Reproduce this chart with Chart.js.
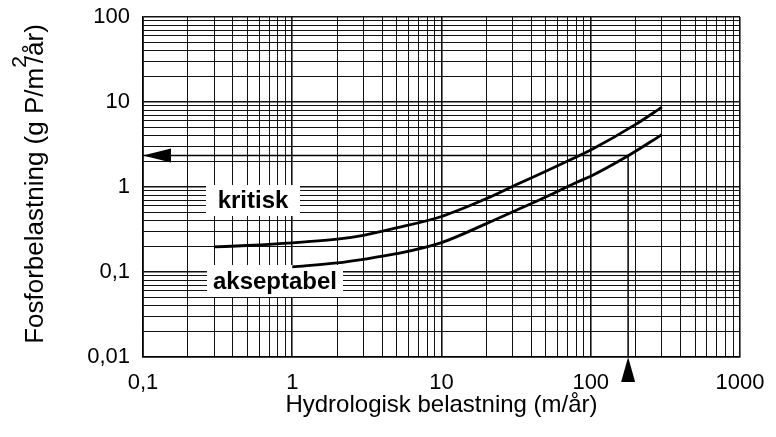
<!DOCTYPE html>
<html>
<head>
<meta charset="utf-8">
<script src="https://cdn.jsdelivr.net/npm/chart.js@4.4.1/dist/chart.umd.min.js"></script>
<style>
  html, body { margin: 0; padding: 0; background: #fff; }
  #wrap { width: 776px; height: 437px; }
</style>
</head>
<body>
<div id="wrap"><canvas id="myChart" width="776" height="437"></canvas></div>
<script>
// verdier lest av figuren
const xDekader = [0.1, 1, 10, 100, 1000];
const xEtiketter = ['0,1', '1', '10', '100', '1000'];
const yDekader = [0.01, 0.1, 1, 10, 100];
const yEtiketter = ['0,01', '0,1', '1', '10', '100'];

const kritiskX = [0.3, 0.5, 1, 2, 3, 5, 10, 20, 33, 50, 80, 100, 200, 300];
const kritiskY = [0.197, 0.205, 0.22, 0.243, 0.27, 0.33, 0.45, 0.73, 1.1, 1.53, 2.25, 2.72, 5.45, 8.7];

const akseptabelX = [1, 2, 3, 5, 10, 20, 33, 50, 80, 100, 178, 300];
const akseptabelY = [0.115, 0.128, 0.141, 0.164, 0.222, 0.371, 0.55, 0.763, 1.13, 1.34, 2.33, 4.13];

// avlesningseksempel (pilene)
const pilX = 178;
const pilY = 2.35;

const FONT = "'Liberation Sans', Arial, Helvetica, sans-serif";

function lagTicks(dekader) {
    const ticks = [];
    for (let i = 0; i < dekader.length - 1; i++) {
        for (let m = 1; m <= 9; m++) {
            ticks.push({ value: m * dekader[i] });
        }
    }
    ticks.push({ value: dekader[dekader.length - 1] });
    return ticks;
}

function punkter(xs, ys) {
    return xs.map((x, i) => ({ x: x, y: ys[i] }));
}

const rutenett = {
    color: '#111',
    lineWidth: (c) => (c.index % 9 === 0 ? 1.6 : 1),
    drawTicks: false
};

// hvite etikettbokser med fet tekst
const etikettPlugin = {
    id: 'etiketter',
    beforeDatasetsDraw(chart) {
        const ctx = chart.ctx;
        const bokser = [
            { tekst: 'kritisk', x: 206, y: 185, w: 94, h: 31 },
            { tekst: 'akseptabel', x: 207, y: 265, w: 136, h: 32 }
        ];
        ctx.save();
        ctx.font = 'bold 24px ' + FONT;
        ctx.textAlign = 'center';
        ctx.textBaseline = 'middle';
        bokser.forEach(b => {
            ctx.fillStyle = '#fff';
            ctx.fillRect(b.x, b.y, b.w, b.h);
            ctx.fillStyle = '#000';
            ctx.fillText(b.tekst, b.x + b.w / 2, b.y + b.h / 2 + 1);
        });
        ctx.restore();
    },
    afterDatasetsDraw(chart) {
        const ctx = chart.ctx;
        const xs = chart.scales.x;
        const ys = chart.scales.y;
        const px = xs.getPixelForValue(pilX);
        const py = ys.getPixelForValue(pilY);
        const venstre = chart.chartArea.left;
        const bunn = chart.chartArea.bottom;
        ctx.save();
        ctx.fillStyle = '#000';
        // pil mot y-aksen
        ctx.beginPath();
        ctx.moveTo(venstre, py);
        ctx.lineTo(venstre + 28, py - 7);
        ctx.lineTo(venstre + 28, py + 7);
        ctx.closePath();
        ctx.fill();
        // pil under x-aksen
        ctx.beginPath();
        ctx.moveTo(px, bunn);
        ctx.lineTo(px - 7, bunn + 25);
        ctx.lineTo(px + 7, bunn + 25);
        ctx.closePath();
        ctx.fill();

        // y-aksetittel med hevet 2
        ctx.translate(36, 184);
        ctx.rotate(-Math.PI / 2);
        ctx.textBaseline = 'middle';
        ctx.textAlign = 'left';
        const del1 = 'Fosforbelastning (g P/m';
        const del2 = '/år)';
        ctx.font = '26px ' + FONT;
        const w1 = ctx.measureText(del1).width;
        const w2 = ctx.measureText(del2).width;
        ctx.font = '21px ' + FONT;
        const wSup = ctx.measureText('2').width;
        const total = w1 + wSup * 0.4 + w2;
        const x0 = -total / 2;
        ctx.font = '26px ' + FONT;
        ctx.fillText(del1, x0, 0);
        ctx.font = '21px ' + FONT;
        ctx.fillText('2', x0 + w1, -16);
        ctx.font = '26px ' + FONT;
        ctx.fillText(del2, x0 + w1 + wSup * 0.4, 0);
        ctx.restore();
    }
};

function lagGraf() {
    const ctx = document.getElementById('myChart');
    new Chart(ctx, {
        type: 'line',
        data: {
            datasets: [
                {
                    label: 'kritisk',
                    data: punkter(kritiskX, kritiskY),
                    borderColor: '#000',
                    borderWidth: 2.8,
                    pointRadius: 0,
                    cubicInterpolationMode: 'monotone'
                },
                {
                    label: 'akseptabel',
                    data: punkter(akseptabelX, akseptabelY),
                    borderColor: '#000',
                    borderWidth: 2.8,
                    pointRadius: 0,
                    cubicInterpolationMode: 'monotone'
                },
                {
                    label: 'avlesning',
                    data: [{ x: xDekader[0], y: pilY }, { x: pilX, y: pilY }, { x: pilX, y: yDekader[0] }],
                    borderColor: '#000',
                    borderWidth: 1.5,
                    pointRadius: 0,
                    tension: 0
                }
            ]
        },
        options: {
            responsive: false,
            animation: false,
            layout: { padding: { left: 0, right: 36, top: 17, bottom: 0 } },
            plugins: {
                legend: { display: false },
                tooltip: { enabled: false }
            },
            scales: {
                x: {
                    type: 'logarithmic',
                    min: xDekader[0],
                    max: xDekader[xDekader.length - 1],
                    afterBuildTicks: (s) => { s.ticks = lagTicks(xDekader); },
                    afterFit: (s) => {
                        s.height = 80;
                        s.paddingLeft = 0;
                        s.paddingRight = 0;
                    },
                    grid: rutenett,
                    border: { color: '#000', width: 1.6 },
                    ticks: {
                        autoSkip: false,
                        maxRotation: 0,
                        padding: 13,
                        color: '#000',
                        font: { family: FONT, size: 22 },
                        callback: (v, i) => (i % 9 === 0 ? xEtiketter[i / 9] : '')
                    },
                    title: {
                        display: true,
                        text: 'Hydrologisk belastning (m/år)',
                        color: '#000',
                        font: { family: FONT, size: 24 },
                        padding: { top: 2, bottom: 17 }
                    }
                },
                y: {
                    type: 'logarithmic',
                    min: yDekader[0],
                    max: yDekader[yDekader.length - 1],
                    afterBuildTicks: (s) => { s.ticks = lagTicks(yDekader); },
                    afterFit: (s) => {
                        s.width = 143;
                        s.paddingTop = 0;
                        s.paddingBottom = 0;
                    },
                    grid: rutenett,
                    border: { color: '#000', width: 1.6 },
                    ticks: {
                        autoSkip: false,
                        padding: 13,
                        color: '#000',
                        font: { family: FONT, size: 22 },
                        callback: (v, i) => (i % 9 === 0 ? yEtiketter[i / 9] : '')
                    }
                }
            }
        },
        plugins: [etikettPlugin]
    });
}
lagGraf();
</script>
</body>
</html>
